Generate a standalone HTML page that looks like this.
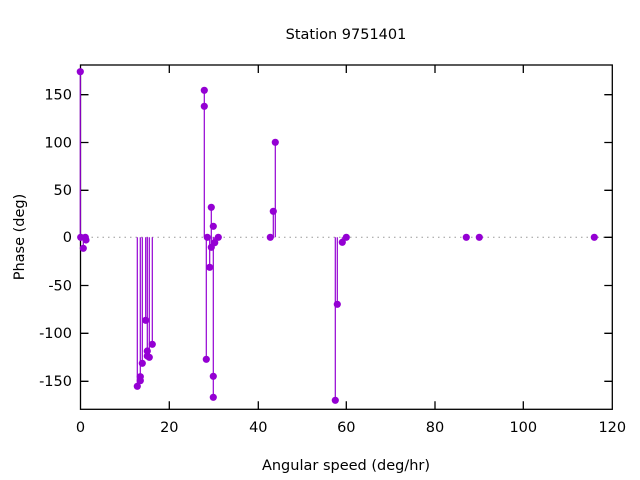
<!DOCTYPE html>
<html><head><style>body{margin:0;background:#fff}svg{display:block}text{font-family:"DejaVu Sans","Liberation Sans",sans-serif;font-size:14.5px;fill:#000}</style></head>
<body>
<svg width="640" height="480" viewBox="0 0 640 480">
<text x="346" y="39" text-anchor="middle">Station 9751401</text>
<line x1="80.5" y1="237.3" x2="612.3" y2="237.3" stroke="#999" stroke-width="1" stroke-dasharray="1.5,4"/>
<g stroke="#000" stroke-width="1.3">
<rect x="80.5" y="65" width="531.8" height="344.3" fill="none"/>
<path d="M80.5,94.7h8M80.5,142.5h8M80.5,190.3h8M80.5,237.3h8M80.5,285.5h8M80.5,333.3h8M80.5,381.3h8
M612.3,94.7h-8M612.3,142.5h-8M612.3,190.3h-8M612.3,237.3h-8M612.3,285.5h-8M612.3,333.3h-8M612.3,381.3h-8
M169.3,409.3v-8M258.3,409.3v-8M346.3,409.3v-8M435,409.3v-8M523.3,409.3v-8
M169.3,65v8M258.3,65v8M346.3,65v8M435,65v8M523.3,65v8"/>
</g>
<g text-anchor="end">
<text x="72" y="99.5">150</text><text x="72" y="147.3">100</text><text x="72" y="195.1">50</text><text x="72" y="242.1">0</text><text x="72" y="290.3">-50</text><text x="72" y="338.1">-100</text><text x="72" y="386.1">-150</text>
</g>
<g text-anchor="middle">
<text x="80.5" y="432">0</text><text x="169.3" y="432">20</text><text x="258.3" y="432">40</text><text x="346.3" y="432">60</text><text x="435" y="432">80</text><text x="523.3" y="432">100</text><text x="612.3" y="432">120</text>
<text x="346" y="470">Angular speed (deg/hr)</text>
<text transform="translate(24,237) rotate(-90)">Phase (deg)</text>
</g>
<g stroke="#9400d3" stroke-width="1.2">
<path d="M80.3,237.3V71.7M83.3,237.3V248.3M86,237.3V240
M137.3,237.3V386.3M140.3,237.3V380.7M142.3,237.3V363.3M145.7,237.3V320.3M147.3,237.3V356M149.3,237.3V357.3M152.3,237.3V344.3
M204.3,237.3V90.3M206.3,237.3V359.3M209.7,237.3V267.3M211.3,237.3V207.3M211.3,237.3V247.3M213.3,237.3V397.3M214.7,237.3V242.7
M273.3,237.3V211.3M275.3,237.3V142.3M335.3,237.3V400.3M337.3,237.3V304.3M342.3,237.3V242.3"/>
</g>
<g fill="#9400d3">
<circle cx="80.3" cy="71.7" r="3.6"/><circle cx="80.7" cy="237.3" r="3.6"/><circle cx="83.3" cy="248.3" r="3.6"/><circle cx="85.3" cy="237.3" r="3.6"/><circle cx="86" cy="240" r="3.6"/>
<circle cx="137.3" cy="386.3" r="3.6"/><circle cx="140.3" cy="376.7" r="3.6"/><circle cx="140.3" cy="380.7" r="3.6"/><circle cx="142.3" cy="363.3" r="3.6"/><circle cx="145.7" cy="320.3" r="3.6"/><circle cx="147.3" cy="351" r="3.6"/><circle cx="147.3" cy="356" r="3.6"/><circle cx="149.3" cy="357.3" r="3.6"/><circle cx="152.3" cy="344.3" r="3.6"/>
<circle cx="204.3" cy="90.3" r="3.6"/><circle cx="204.3" cy="106.3" r="3.6"/><circle cx="207.3" cy="237.3" r="3.6"/><circle cx="206.3" cy="359.3" r="3.6"/><circle cx="209.7" cy="267.3" r="3.6"/><circle cx="211.3" cy="207.3" r="3.6"/><circle cx="211.3" cy="247.3" r="3.6"/><circle cx="213.3" cy="226.3" r="3.6"/><circle cx="213.3" cy="376.3" r="3.6"/><circle cx="213.3" cy="397.3" r="3.6"/><circle cx="214.7" cy="242.7" r="3.6"/><circle cx="218.3" cy="237.3" r="3.6"/>
<circle cx="270.3" cy="237.3" r="3.6"/><circle cx="273.3" cy="211.3" r="3.6"/><circle cx="275.3" cy="142.3" r="3.6"/>
<circle cx="335.3" cy="400.3" r="3.6"/><circle cx="337.3" cy="304.3" r="3.6"/><circle cx="342.3" cy="242.3" r="3.6"/><circle cx="346.3" cy="237.3" r="3.6"/>
<circle cx="466.3" cy="237.3" r="3.6"/><circle cx="479.3" cy="237.3" r="3.6"/><circle cx="594.3" cy="237.3" r="3.6"/>
</g>
</svg>
</body></html>
